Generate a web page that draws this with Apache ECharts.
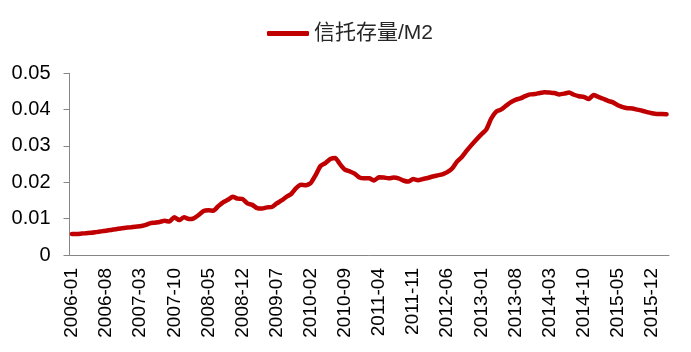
<!DOCTYPE html>
<html>
<head>
<meta charset="utf-8">
<script src="https://cdn.jsdelivr.net/npm/echarts@6/dist/echarts.min.js"></script>
<style>
  html, body { margin: 0; padding: 0; background: #fff; }
  #main { width: 691px; height: 352px; }
</style>
</head>
<body>
<div id="main"></div>
<script>
// monthly, 2006-01 .. 2016-03
const startYear = 2006;
const monthCount = 123;
const months = [];
for (let i = 0; i < monthCount; i++) {
  const y = startYear + Math.floor(i / 12);
  const m = (i % 12) + 1;
  months.push(y + '-' + (m < 10 ? '0' + m : m));
}

const seriesName = '信托存量/M2';
const trustToM2 = [
  0.0058, 0.0058, 0.0059, 0.0060, 0.0061, 0.0063, 0.0065, 0.0067, 0.0069, 0.0071,
  0.0073, 0.0075, 0.0076, 0.0078, 0.0079, 0.0082, 0.0087, 0.0089, 0.0091, 0.0094,
  0.0092, 0.0104, 0.0096, 0.0104, 0.0099, 0.0101, 0.0110, 0.0121, 0.0123, 0.0122,
  0.0134, 0.0145, 0.0152, 0.0160, 0.0155, 0.0154, 0.0142, 0.0138, 0.0129, 0.0128,
  0.0131, 0.0132, 0.0142, 0.0150, 0.0160, 0.0168, 0.0184, 0.0193, 0.0192, 0.0198,
  0.0220, 0.0245, 0.0253, 0.0264, 0.0267, 0.0250, 0.0235, 0.0230, 0.0224, 0.0213,
  0.0211, 0.0211, 0.0205, 0.0214, 0.0213, 0.0211, 0.0213, 0.0211, 0.0205, 0.0202,
  0.0209, 0.0206, 0.0209, 0.0212, 0.0216, 0.0219, 0.0222, 0.0228, 0.0238, 0.0257,
  0.0270, 0.0287, 0.0303, 0.0318, 0.0332, 0.0345, 0.0375, 0.0394, 0.0400, 0.0410,
  0.0420, 0.0427, 0.0431, 0.0437, 0.0442, 0.0443, 0.0446, 0.0448, 0.0447, 0.0446,
  0.0442, 0.0444, 0.0447, 0.0441, 0.0437, 0.0435, 0.0429, 0.0440, 0.0435, 0.0430,
  0.0424, 0.0420, 0.0412, 0.0407, 0.0404, 0.0403, 0.0400, 0.0397, 0.0393, 0.0390,
  0.0388, 0.0388, 0.0387
];

const yTicks = [0, 0.01, 0.02, 0.03, 0.04, 0.05];

const font = 'Liberation Sans, Noto Sans CJK SC, sans-serif';
const chart = echarts.init(document.getElementById('main'));
const option = {
  animation: false,
  textStyle: { fontFamily: font },
  legend: {
    data: [seriesName],
    left: 262,
    top: 18,
    icon: 'roundRect',
    itemWidth: 42,
    itemHeight: 5,
    itemGap: 10,
    textStyle: { fontSize: 21, color: '#262626', fontFamily: font }
  },
  grid: {
    left: 69.5,
    right: 22,
    top: 73.3,
    bottom: 97
  },
  xAxis: {
    type: 'category',
    data: months,
    boundaryGap: true,
    axisLine: { lineStyle: { color: '#868686', width: 1 } },
    axisTick: { interval: 6, length: 6, lineStyle: { color: '#868686' } },
    axisLabel: {
      interval: 6,
      rotate: 90,
      fontSize: 19,
      color: '#000',
      margin: 13
    },
    splitLine: { show: false }
  },
  yAxis: {
    type: 'value',
    min: yTicks[0],
    max: yTicks[yTicks.length - 1],
    interval: 0.01,
    axisLine: { show: true, lineStyle: { color: '#868686', width: 1 } },
    axisTick: { show: true, length: 6, lineStyle: { color: '#868686' } },
    axisLabel: { fontSize: 20, color: '#000', margin: 19 },
    splitLine: { show: false }
  },
  series: [
    {
      name: seriesName,
      type: 'line',
      data: trustToM2,
      symbol: 'none',
      smooth: 0.2,
      itemStyle: { color: '#C00000' },
      lineStyle: { color: '#C00000', width: 4.5, cap: 'round', join: 'round' }
    }
  ]
};
chart.setOption(option);
</script>
</body>
</html>
